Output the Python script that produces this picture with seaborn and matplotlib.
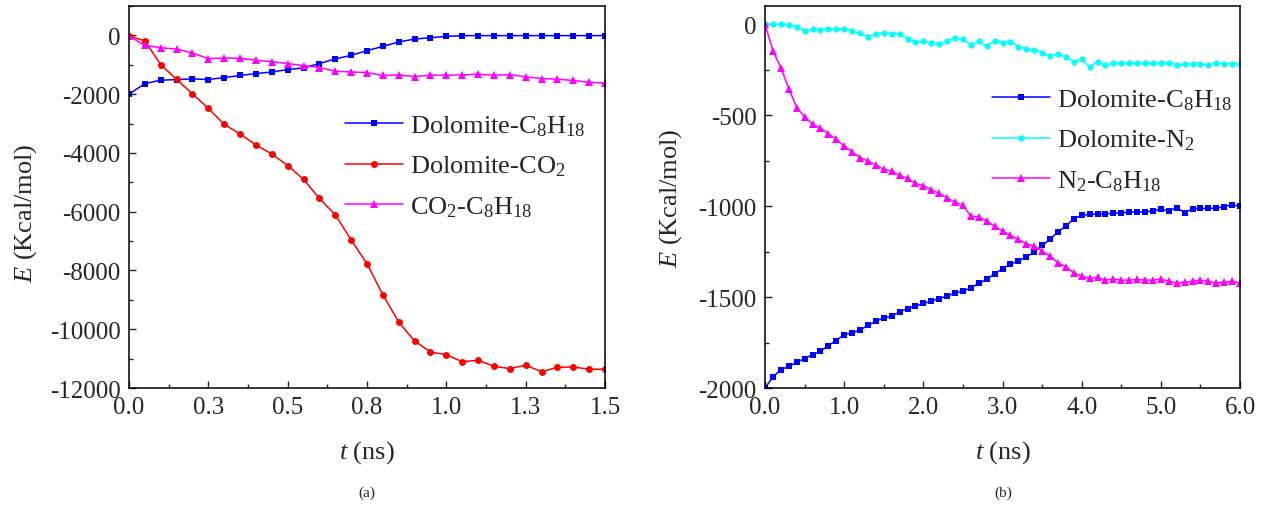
"""
Interaction energy vs time: (a) CO2 system, (b) N2 system
"""
import numpy as np
import pandas as pd
import matplotlib
matplotlib.use('Agg')
import matplotlib.pyplot as plt
import seaborn as sns
from matplotlib.ticker import MultipleLocator, FixedLocator

sns.set_style('ticks')
plt.rcParams['font.family'] = ['Liberation Serif', 'DejaVu Serif']
plt.rcParams['mathtext.fontset'] = 'custom'
plt.rcParams['mathtext.rm'] = 'Liberation Serif'
plt.rcParams['mathtext.it'] = 'Liberation Serif:italic'
plt.rcParams['axes.unicode_minus'] = False

# ---- panel (a) data, 0.05 ns steps ----
t_a = [0.00, 0.05, 0.10, 0.15, 0.20, 0.25, 0.30, 0.35, 0.40, 0.45, 0.50,
       0.55, 0.60, 0.65, 0.70, 0.75, 0.80, 0.85, 0.90, 0.95, 1.00,
       1.05, 1.10, 1.15, 1.20, 1.25, 1.30, 1.35, 1.40, 1.45, 1.50]
dol_c8_a = [-2000, -1640, -1525, -1505, -1480, -1505, -1435, -1365, -1300, -1245, -1165,
            -1105, -960, -800, -680, -520, -375, -225, -125, -80, -35,
            -10, -8, -8, -8, -8, -8, -8, -8, -8, -8]
dol_co2_a = [-20, -190, -995, -1500, -1990, -2485, -3030, -3355, -3730, -4035, -4430,
             -4900, -5550, -6105, -6960, -7775, -8830, -9760, -10400, -10775, -10865,
             -11105, -11055, -11260, -11340, -11225, -11445, -11295, -11285, -11360, -11360]
co2_c8_a = [-30, -340, -420, -465, -600, -790, -770, -780, -845, -895, -960,
            -1030, -1095, -1220, -1245, -1265, -1365, -1345, -1400, -1355, -1355,
            -1345, -1320, -1355, -1335, -1410, -1470, -1490, -1535, -1595, -1625]
xticks_a = [0.0, 0.25, 0.5, 0.75, 1.0, 1.25, 1.5]
xticklabels_a = ['0.0', '0.3', '0.5', '0.8', '1.0', '1.3', '1.5']

# ---- panel (b) data, 0.1 ns steps ----
t_b = [0.0, 0.1, 0.2, 0.3, 0.4, 0.5, 0.6, 0.7, 0.8, 0.9,
       1.0, 1.1, 1.2, 1.3, 1.4, 1.5, 1.6, 1.7, 1.8, 1.9,
       2.0, 2.1, 2.2, 2.3, 2.4, 2.5, 2.6, 2.7, 2.8, 2.9,
       3.0, 3.1, 3.2, 3.3, 3.4, 3.5, 3.6, 3.7, 3.8, 3.9,
       4.0, 4.1, 4.2, 4.3, 4.4, 4.5, 4.6, 4.7, 4.8, 4.9,
       5.0, 5.1, 5.2, 5.3, 5.4, 5.5, 5.6, 5.7, 5.8, 5.9, 6.0]
dol_c8_b = [-2000, -1939, -1899, -1881, -1858, -1838, -1816, -1798, -1767, -1739,
            -1706, -1697, -1682, -1656, -1633, -1615, -1605, -1581, -1563, -1550,
            -1535, -1523, -1508, -1495, -1477, -1468, -1449, -1425, -1403, -1372,
            -1345, -1317, -1303, -1279, -1253, -1216, -1183, -1141, -1110, -1069,
            -1051, -1046, -1044, -1042, -1040, -1036, -1035, -1031, -1033, -1025,
            -1018, -1025, -1009, -1036, -1014, -1013, -1013, -1011, -1003, -994, -1000]
dol_n2_b = [0, 0, 0, -2, -15, -39, -28, -31, -29, -28,
            -24, -37, -51, -70, -55, -48, -53, -55, -79, -97,
            -95, -103, -110, -90, -75, -84, -114, -95, -119, -90,
            -101, -97, -123, -134, -141, -156, -174, -163, -182, -206,
            -193, -233, -206, -226, -213, -215, -215, -215, -215, -215,
            -216, -211, -224, -220, -218, -218, -224, -213, -217, -217, -218]
n2_c8_b = [0, -147, -239, -354, -459, -508, -550, -572, -602, -633,
           -670, -701, -734, -752, -774, -798, -807, -831, -848, -875,
           -888, -910, -930, -955, -978, -996, -1055, -1060, -1082, -1110,
           -1137, -1161, -1183, -1207, -1220, -1247, -1275, -1312, -1334, -1367,
           -1385, -1398, -1391, -1407, -1400, -1407, -1407, -1403, -1407, -1407,
           -1400, -1413, -1422, -1418, -1414, -1407, -1414, -1422, -1418, -1414, -1422]

TICK_FS = 18
LABEL_FS = 19
LEG_FS = 19


def style_axes(ax):
    for sp in ax.spines.values():
        sp.set_visible(True)
        sp.set_linewidth(1.1)
        sp.set_color('black')
    ax.tick_params(which='major', direction='in', length=5, width=1.0,
                   labelsize=TICK_FS, pad=6, top=False, right=False)
    ax.tick_params(which='minor', direction='in', length=3, width=1.0,
                   top=False, right=False)
    ax.grid(False)


def draw_series(ax, x, y, color, marker, ms, label):
    df = pd.DataFrame({'t': x, 'E': y})
    sns.lineplot(data=df, x='t', y='E', ax=ax, color=color, marker=marker,
                 markersize=ms, markeredgewidth=0, linewidth=1.1, label=label)


fig = plt.figure(figsize=(12.66, 5.06), dpi=100)
ax1 = fig.add_axes([0.1019, 0.2312, 0.376, 0.755])
ax2 = fig.add_axes([0.6043, 0.2312, 0.3752, 0.755])

# (a)
draw_series(ax1, t_a, dol_c8_a, '#0000FF', 's', 5, r'Dolomite-C$_8$H$_{18}$')
draw_series(ax1, t_a, dol_co2_a, '#FF0000', 'o', 5, r'Dolomite-CO$_2$')
draw_series(ax1, t_a, co2_c8_a, '#FF00FF', '^', 6, r'CO$_2$-C$_8$H$_{18}$')
ax1.set_xlim(0, 1.5)
ax1.set_ylim(-12000, 1000)
ax1.xaxis.set_major_locator(FixedLocator(xticks_a))
ax1.set_xticklabels(xticklabels_a)
ax1.xaxis.set_minor_locator(MultipleLocator(0.125))
ax1.yaxis.set_major_locator(MultipleLocator(2000))
ax1.yaxis.set_minor_locator(MultipleLocator(1000))
style_axes(ax1)
ax1.set_xlabel(r'$\it{t}$ (ns)', fontsize=LABEL_FS)
ax1.set_ylabel(r'$\it{E}$ (Kcal/mol)', fontsize=LABEL_FS)
ax1.xaxis.set_label_coords(0.5, -0.13)
ax1.yaxis.set_label_coords(-0.19, 0.46)
ax1.legend(loc='center left', bbox_to_anchor=(0.454, 0.581), frameon=False,
           fontsize=LEG_FS, handlelength=2.2, handletextpad=0.25,
           labelspacing=0.6, borderpad=0, borderaxespad=0, numpoints=1)

# (b)
draw_series(ax2, t_b, dol_c8_b, '#0000FF', 's', 4.5, r'Dolomite-C$_8$H$_{18}$')
draw_series(ax2, t_b, dol_n2_b, '#00FFFF', 'o', 4.5, r'Dolomite-N$_2$')
draw_series(ax2, t_b, n2_c8_b, '#FF00FF', '^', 5.5, r'N$_2$-C$_8$H$_{18}$')
ax2.set_xlim(0, 6.0)
ax2.set_ylim(-2000, 100)
ax2.xaxis.set_major_locator(MultipleLocator(1.0))
ax2.xaxis.set_minor_locator(MultipleLocator(0.5))
ax2.xaxis.set_major_formatter('{x:.1f}')
ax2.yaxis.set_major_locator(MultipleLocator(500))
ax2.yaxis.set_minor_locator(MultipleLocator(250))
style_axes(ax2)
ax2.set_xlabel(r'$\it{t}$ (ns)', fontsize=LABEL_FS)
ax2.set_ylabel(r'$\it{E}$ (Kcal/mol)', fontsize=LABEL_FS)
ax2.xaxis.set_label_coords(0.5, -0.13)
ax2.yaxis.set_label_coords(-0.17, 0.5)
ax2.legend(loc='center left', bbox_to_anchor=(0.478, 0.649), frameon=False,
           fontsize=LEG_FS, handlelength=2.2, handletextpad=0.25,
           labelspacing=0.6, borderpad=0, borderaxespad=0, numpoints=1)

fig.text(367 / 1266, 1 - 493 / 506, '(a)', ha='center', va='center', fontsize=11)
fig.text(1003 / 1266, 1 - 493 / 506, '(b)', ha='center', va='center', fontsize=11)

fig.savefig('out.png', dpi=100)
